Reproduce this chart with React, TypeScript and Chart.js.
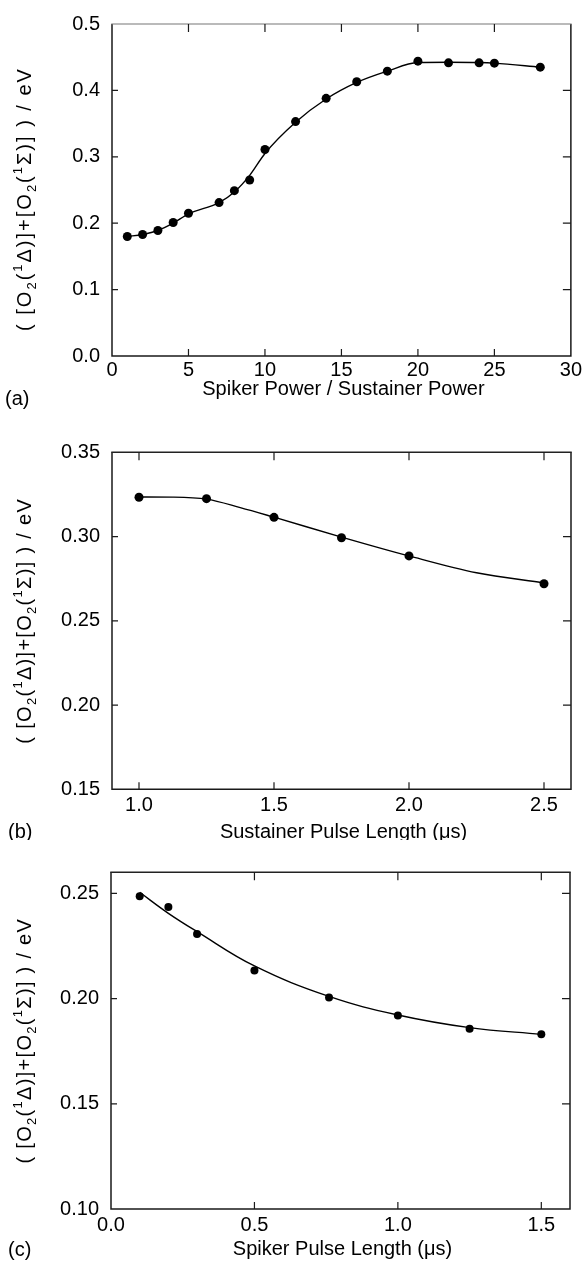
import React, { useEffect, useRef } from "react";
import { Chart, registerables } from "chart.js";
Chart.register(...registerables);

const FONT = '"Liberation Sans", Arial, Helvetica, sans-serif';

// ---------- Panel (a) ----------
const A_X = [1, 2, 3, 4, 5, 7, 8, 9, 10, 12, 14, 16, 18, 20, 22, 24, 25, 28];
const A_Y = [0.18, 0.183, 0.189, 0.201, 0.215, 0.231, 0.249, 0.265, 0.311, 0.353, 0.388, 0.413, 0.429, 0.444, 0.4415, 0.4415, 0.441, 0.435];
const A_FIT_X = [1, 2, 3, 4, 5, 7, 8, 9, 10, 12, 14, 16, 18, 20, 22, 24, 25, 28];
const A_FIT_Y = [0.18, 0.183, 0.189, 0.2, 0.214, 0.231, 0.247, 0.272, 0.305, 0.352, 0.387, 0.412, 0.429, 0.442, 0.4425, 0.442, 0.441, 0.435];
const A_X_TICKS = [0, 5, 10, 15, 20, 25, 30];
const A_Y_TICKS = [0, 0.1, 0.2, 0.3, 0.4, 0.5];

// ---------- Panel (b) ----------
const B_X = [1.0, 1.25, 1.5, 1.75, 2.0, 2.5];
const B_Y = [0.3233, 0.3225, 0.3114, 0.2993, 0.2885, 0.272];
const B_FIT_X = [1.0, 1.125, 1.25, 1.375, 1.5, 1.75, 2.0, 2.25, 2.5];
const B_FIT_Y = [0.3235, 0.3234, 0.3222, 0.3172, 0.3115, 0.2997, 0.2885, 0.2785, 0.2725];
const B_X_TICKS = [1.0, 1.5, 2.0, 2.5];
const B_Y_TICKS = [0.15, 0.2, 0.25, 0.3, 0.35];

// ---------- Panel (c) ----------
const C_X = [0.1, 0.2, 0.3, 0.5, 0.76, 1.0, 1.25, 1.5];
const C_Y = [0.2486, 0.2435, 0.2307, 0.2133, 0.2005, 0.192, 0.1857, 0.183];
const C_FIT_X = [0.1, 0.2, 0.3, 0.5, 0.76, 1.0, 1.25, 1.5];
const C_FIT_Y = [0.2505, 0.2405, 0.2318, 0.2155, 0.201, 0.1922, 0.1862, 0.183];
const C_X_TICKS = [0.0, 0.5, 1.0, 1.5];
const C_Y_TICKS = [0.1, 0.15, 0.2, 0.25];

const Y_TITLE_SEGS = [
  { t: "( [O", k: "n" },
  { t: "2", k: "sub" },
  { t: "(", k: "n" },
  { t: "1", k: "sup" },
  { t: "\u0394)]+[O", k: "n" },
  { t: "2", k: "sub" },
  { t: "(", k: "n" },
  { t: "1", k: "sup" },
  { t: "\u03A3)] ) / eV", k: "n" },
];

type PanelDef = {
  key: string;
  top: number;
  height: number;
  area: { left: number; right: number; top: number; bottom: number };
  xs: number[];
  ys: number[];
  fitX: number[];
  fitY: number[];
  xTicks: number[];
  yTicks: number[];
  xMin: number;
  xMax: number;
  yMin: number;
  yMax: number;
  xDigits: number;
  yDigits: number;
  xTitle: string;
  xTitleBase: number;
  label: string;
  labelX: number;
  labelBase: number;
  xTickPad: number;
  radius: number;
  topColor: string;
  titleShift: number;
  titleSpacing: number;
  monotone: boolean;
};

const PANELS: PanelDef[] = [
  {
    key: "a", top: 0, height: 412,
    area: { left: 112, right: 571, top: 20, bottom: 356 },
    xs: A_X, ys: A_Y, fitX: A_FIT_X, fitY: A_FIT_Y,
    xTicks: A_X_TICKS, yTicks: A_Y_TICKS,
    xMin: 0, xMax: 30, yMin: 0, yMax: 0.5, xDigits: 0, yDigits: 1,
    xTitle: "Spiker Power / Sustainer Power", xTitleBase: 395,
    label: "(a)", labelX: 5, labelBase: 405, xTickPad: 2, radius: 4.5, topColor: "#777",
    titleShift: 9, titleSpacing: 2, monotone: true,
  },
  {
    key: "b", top: 412, height: 428,
    area: { left: 112, right: 571, top: 452.3 - 412, bottom: 789.3 - 412 },
    xs: B_X, ys: B_Y, fitX: B_FIT_X, fitY: B_FIT_Y,
    xTicks: B_X_TICKS, yTicks: B_Y_TICKS,
    xMin: 0.9, xMax: 2.6, yMin: 0.15, yMax: 0.35, xDigits: 1, yDigits: 2,
    xTitle: "Sustainer Pulse Length (\u03BCs)", xTitleBase: 838 - 412,
    label: "(b)", labelX: 8, labelBase: 838 - 412, xTickPad: 4, radius: 4.5, topColor: "#222",
    titleShift: 0, titleSpacing: 1.3, monotone: true,
  },
  {
    key: "c", top: 840, height: 422,
    area: { left: 111, right: 570, top: 872.3 - 840, bottom: 1209 - 840 },
    xs: C_X, ys: C_Y, fitX: C_FIT_X, fitY: C_FIT_Y,
    xTicks: C_X_TICKS, yTicks: C_Y_TICKS,
    xMin: 0, xMax: 1.6, yMin: 0.1, yMax: 0.26, xDigits: 1, yDigits: 2,
    xTitle: "Spiker Pulse Length (\u03BCs)", xTitleBase: 1255 - 840,
    label: "(c)", labelX: 8, labelBase: 1256 - 840, xTickPad: 4, radius: 4, topColor: "#222",
    titleShift: 0, titleSpacing: 1.3, monotone: false,
  },
];

const framePlugin = {
  id: "frame",
  afterDraw(chart: any, _args: any, opts: any) {
    const p: PanelDef = opts.panel;
    if (!p) return;
    const { ctx, chartArea: ca, scales } = chart;
    const xs = scales.x;
    const ys = scales.y;
    ctx.save();
    // frame
    ctx.lineCap = "butt";
    ctx.strokeStyle = "#1a1a1a";
    ctx.lineWidth = 1.5;
    ctx.beginPath();
    ctx.moveTo(ca.left, ca.top);
    ctx.lineTo(ca.left, ca.bottom);
    ctx.lineTo(ca.right, ca.bottom);
    ctx.lineTo(ca.right, ca.top);
    ctx.stroke();
    ctx.strokeStyle = p.topColor;
    ctx.lineWidth = p.topColor === "#222" ? 1.5 : 1.2;
    ctx.beginPath();
    ctx.moveTo(ca.left - 0.75, ca.top);
    ctx.lineTo(ca.right + 0.75, ca.top);
    ctx.stroke();
    // inner ticks
    ctx.strokeStyle = "#1a1a1a";
    ctx.lineWidth = 1.2;
    ctx.beginPath();
    for (const v of p.xTicks) {
      const px = xs.getPixelForValue(v);
      if (px <= ca.left + 1 || px >= ca.right - 1) continue;
      ctx.moveTo(px, ca.bottom);
      ctx.lineTo(px, ca.bottom - 7);
      ctx.moveTo(px, ca.top);
      ctx.lineTo(px, ca.top + 8);
    }
    for (const v of p.yTicks) {
      const py = ys.getPixelForValue(v);
      if (py <= ca.top + 1 || py >= ca.bottom - 1) continue;
      ctx.moveTo(ca.left, py);
      ctx.lineTo(ca.left + 6, py);
      ctx.moveTo(ca.right, py);
      ctx.lineTo(ca.right - 8, py);
    }
    ctx.stroke();

    // x title
    ctx.fillStyle = "#000";
    ctx.font = `20px ${FONT}`;
    ctx.textAlign = "center";
    ctx.textBaseline = "alphabetic";
    ctx.fillText(p.xTitle, (ca.left + ca.right) / 2 + 2, p.xTitleBase);

    // panel label
    ctx.textAlign = "left";
    ctx.fillText(p.label, p.labelX, p.labelBase);

    // y title (rotated rich text)
    const big = `20px ${FONT}`;
    const small = `13px ${FONT}`;
    const spacing = p.titleSpacing;
    let total = 0;
    const widths: number[] = [];
    for (const s of Y_TITLE_SEGS) {
      ctx.font = s.k === "n" ? big : small;
      const w = ctx.measureText(s.t).width + spacing * s.t.length;
      widths.push(w);
      total += w;
    }
    ctx.translate(31, (ca.top + ca.bottom) / 2 + p.titleShift);
    ctx.rotate(-Math.PI / 2);
    let x = -total / 2;
    Y_TITLE_SEGS.forEach((s, i) => {
      ctx.font = s.k === "n" ? big : small;
      const dy = s.k === "sub" ? 5 : s.k === "sup" ? -9 : 0;
      let cx = x;
      for (const ch of s.t) {
        ctx.fillText(ch, cx, dy);
        cx += ctx.measureText(ch).width + spacing;
      }
      x += widths[i];
    });
    ctx.restore();
  },
};

function buildConfig(p: PanelDef): any {
  const fitData = p.fitX.map((x, i) => ({ x, y: p.fitY[i] }));
  const ptData = p.xs.map((x, i) => ({ x, y: p.ys[i] }));
  const tickFont = { family: FONT, size: 20 };
  return {
    type: "line",
    data: {
      datasets: [
        {
          data: ptData,
          showLine: false,
          pointRadius: p.radius,
          pointBackgroundColor: "#000",
          pointBorderWidth: 0,
          pointBorderColor: "#000",
          order: 0,
        },
        {
          data: fitData,
          borderColor: "#000",
          borderWidth: 1.4,
          pointRadius: 0,
          cubicInterpolationMode: p.monotone ? "monotone" : "default",
          tension: p.monotone ? 0 : 0.4,
          fill: false,
          order: 1,
        },
      ],
    },
    options: {
      responsive: false,
      animation: false,
      events: [],
      layout: {
        padding: { left: 0, top: p.area.top, right: 584 - p.area.right, bottom: 0 },
      },
      plugins: {
        legend: { display: false },
        tooltip: { enabled: false },
        frame: { panel: p },
      },
      scales: {
        x: {
          type: "linear",
          min: p.xMin,
          max: p.xMax,
          grid: { display: false, drawTicks: false },
          border: { display: false },
          afterBuildTicks: (s: any) => {
            s.ticks = p.xTicks.map((v) => ({ value: v }));
          },
          afterFit: (s: any) => {
            s.height = p.height - p.area.bottom;
          },
          ticks: {
            autoSkip: false,
            maxRotation: 0,
            padding: p.xTickPad,
            color: "#000",
            font: tickFont,
            callback: (v: any) => Number(v).toFixed(p.xDigits),
          },
        },
        y: {
          type: "linear",
          min: p.yMin,
          max: p.yMax,
          grid: { display: false, drawTicks: false },
          border: { display: false },
          afterBuildTicks: (s: any) => {
            s.ticks = p.yTicks.map((v) => ({ value: v }));
          },
          afterFit: (s: any) => {
            s.width = p.area.left;
          },
          ticks: {
            autoSkip: false,
            padding: 12,
            color: "#000",
            font: tickFont,
            callback: (v: any) => Number(v).toFixed(p.yDigits),
          },
        },
      },
    },
    plugins: [framePlugin],
  };
}

function Panel({ p }: { p: PanelDef }) {
  const ref = useRef<HTMLCanvasElement | null>(null);
  useEffect(() => {
    if (!ref.current) return;
    const chart = new Chart(ref.current, buildConfig(p));
    return () => chart.destroy();
  }, [p]);
  return (
    <canvas
      ref={ref}
      width={584}
      height={p.height}
      style={{ position: "absolute", left: 0, top: p.top, width: 584, height: p.height, display: "block" }}
    />
  );
}

export default function App() {
  return (
    <div style={{ position: "absolute", left: 0, top: 0, width: 584, height: 1262, background: "#fff", overflow: "hidden" }}>
      {PANELS.map((p) => (
        <Panel key={p.key} p={p} />
      ))}
    </div>
  );
}
